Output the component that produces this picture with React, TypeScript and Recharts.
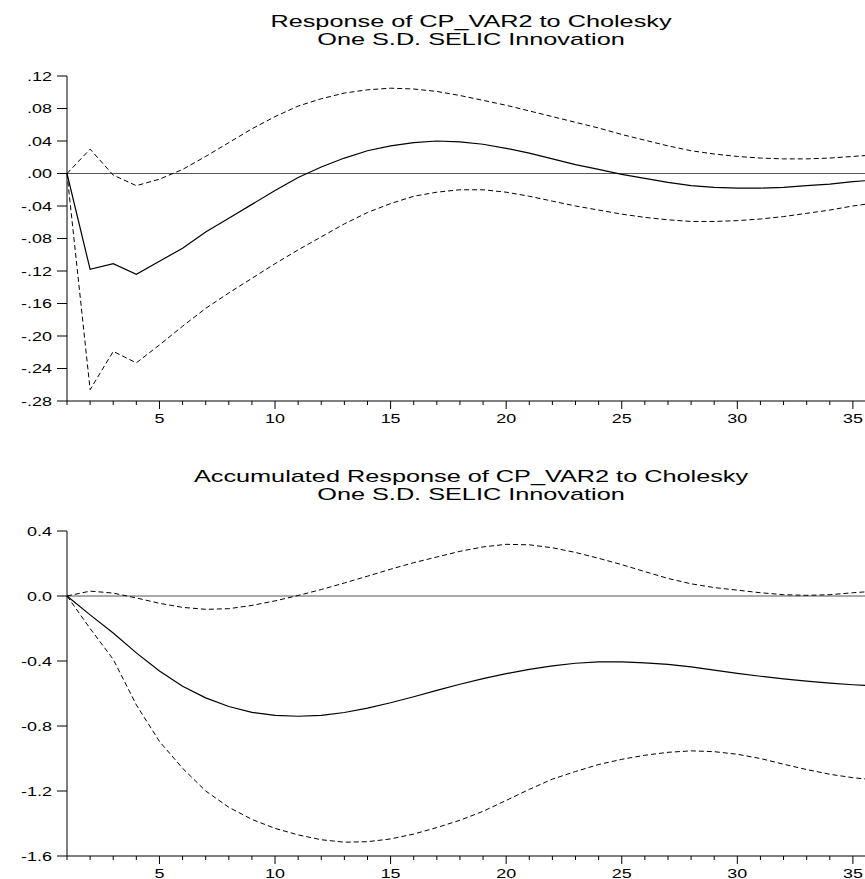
import { LineChart, Line, XAxis, YAxis, ReferenceLine } from 'recharts'

// impulse response periods
const periods = [
  1, 2, 3, 4, 5, 6, 7, 8, 9, 10, 11, 12, 13, 14, 15, 16, 17, 18,
  19, 20, 21, 22, 23, 24, 25, 26, 27, 28, 29, 30, 31, 32, 33, 34, 35, 36,
]

// Response of CP_VAR2 to Cholesky One S.D. SELIC Innovation
const respMid = [
  0, -0.118, -0.111, -0.124, -0.108, -0.092, -0.072, -0.055, -0.038, -0.021,
  -0.005, 0.008, 0.019, 0.028, 0.034, 0.038, 0.040, 0.039, 0.036, 0.031,
  0.025, 0.018, 0.011, 0.005, -0.001, -0.006, -0.011, -0.015, -0.017, -0.018,
  -0.018, -0.017, -0.015, -0.013, -0.010, -0.008,
]
const respUpper = [
  0, 0.030, -0.002, -0.015, -0.007, 0.005, 0.021, 0.038, 0.055, 0.070,
  0.083, 0.092, 0.099, 0.103, 0.105, 0.104, 0.101, 0.096, 0.090, 0.084,
  0.077, 0.070, 0.063, 0.056, 0.048, 0.041, 0.034, 0.028, 0.024, 0.021,
  0.019, 0.018, 0.018, 0.019, 0.021, 0.023,
]
const respLower = [
  0, -0.266, -0.219, -0.233, -0.211, -0.188, -0.166, -0.147, -0.129, -0.111,
  -0.094, -0.078, -0.062, -0.048, -0.037, -0.028, -0.023, -0.020, -0.020, -0.023,
  -0.028, -0.034, -0.040, -0.045, -0.050, -0.054, -0.057, -0.059, -0.059, -0.058,
  -0.056, -0.053, -0.049, -0.045, -0.040, -0.036,
]

// Accumulated Response of CP_VAR2 to Cholesky One S.D. SELIC Innovation
const accMid = [
  0, -0.116, -0.228, -0.350, -0.462, -0.555, -0.627, -0.680, -0.716, -0.735,
  -0.740, -0.735, -0.717, -0.690, -0.657, -0.620, -0.581, -0.543, -0.508, -0.478,
  -0.452, -0.430, -0.414, -0.405, -0.405, -0.411, -0.421, -0.436, -0.456, -0.476,
  -0.494, -0.510, -0.524, -0.536, -0.546, -0.553,
]
const accUpper = [
  0, 0.030, 0.018, -0.012, -0.045, -0.070, -0.082, -0.078, -0.058, -0.030,
  0.003, 0.040, 0.080, 0.122, 0.165, 0.205, 0.240, 0.275, 0.302, 0.318,
  0.315, 0.297, 0.268, 0.232, 0.193, 0.150, 0.108, 0.075, 0.052, 0.036,
  0.020, 0.008, 0.004, 0.008, 0.020, 0.030,
]
const accLower = [
  0, -0.200, -0.390, -0.670, -0.895, -1.060, -1.200, -1.300, -1.375, -1.430,
  -1.470, -1.500, -1.515, -1.512, -1.495, -1.465, -1.425, -1.380, -1.325, -1.258,
  -1.190, -1.127, -1.080, -1.037, -1.005, -0.980, -0.962, -0.953, -0.958, -0.974,
  -1.000, -1.035, -1.068, -1.097, -1.118, -1.133,
]

const topYTicks = [-0.28, -0.24, -0.2, -0.16, -0.12, -0.08, -0.04, 0, 0.04, 0.08, 0.12]
const topYLabels = ['-.28', '-.24', '-.20', '-.16', '-.12', '-.08', '-.04', '.00', '.04', '.08', '.12']
const bottomYTicks = [-1.6, -1.2, -0.8, -0.4, 0, 0.4]
const bottomYLabels = ['-1.6', '-1.2', '-0.8', '-0.4', '0.0', '0.4']

const FONT = "'Liberation Sans', Arial, sans-serif"
const SX = 1.38

const topData = periods.map((t, i) => ({ t, mid: respMid[i], up: respUpper[i], lo: respLower[i] }))
const bottomData = periods.map((t, i) => ({ t, mid: accMid[i], up: accUpper[i], lo: accLower[i] }))

function XTick(props: any) {
  const { x, y, payload } = props
  const major = payload.value % 5 === 0
  return (
    <g>
      <line x1={x} x2={x} y1={y} y2={y + (major ? 8 : 4)} stroke="#000" strokeWidth={1} />
      {major && (
        <text
          x={0}
          y={0}
          transform={`translate(${x},${y + 22}) scale(${SX},1)`}
          textAnchor="middle"
          fontSize={13}
          fontFamily={FONT}
          fill="#000"
        >
          {payload.value}
        </text>
      )}
    </g>
  )
}

function makeYTick(ticks: number[], labels: string[]) {
  return function YTick(props: any) {
    const { x, y, payload } = props
    let idx = 0
    ticks.forEach((v, i) => {
      if (Math.abs(v - payload.value) < 1e-9) idx = i
    })
    return (
      <g>
        <line x1={x - 10} x2={x} y1={y} y2={y} stroke="#000" strokeWidth={1} />
        <text
          x={0}
          y={0}
          dy="0.36em"
          transform={`translate(${x - 15},${y}) scale(${SX},1)`}
          textAnchor="end"
          fontSize={13}
          fontFamily={FONT}
          fill="#000"
        >
          {labels[idx]}
        </text>
      </g>
    )
  }
}

function Panel({
  data,
  yTicks,
  yLabels,
  title1,
  title2,
  top,
}: {
  data: any[]
  yTicks: number[]
  yLabels: string[]
  title1: string
  title2: string
  top: number
}) {
  const YTick = makeYTick(yTicks, yLabels)
  return (
    <div style={{ position: 'absolute', left: 0, top, width: 900, height: 440 }}>
      <svg width={865} height={60} style={{ position: 'absolute', left: 0, top: 0 }}>
        <text
          x={0}
          y={0}
          transform={`translate(471,27) scale(1.58,1)`}
          textAnchor="middle"
          fontSize={16}
          fontFamily={FONT}
          fill="#000"
        >
          {title1}
        </text>
        <text
          x={0}
          y={0}
          transform={`translate(471,45) scale(1.58,1)`}
          textAnchor="middle"
          fontSize={16}
          fontFamily={FONT}
          fill="#000"
        >
          {title2}
        </text>
      </svg>
      <LineChart
        width={900}
        height={440}
        data={data}
        margin={{ top: 76, right: 24, bottom: 9, left: 7 }}
        style={{ position: 'absolute', left: 0, top: 0 }}
      >
        <XAxis
          dataKey="t"
          type="number"
          domain={[1, 36]}
          ticks={periods}
          interval={0}
          height={30}
          tickSize={0}
          tickMargin={0}
          tickLine={false}
          axisLine={{ stroke: '#000', strokeWidth: 1 }}
          tick={XTick}
        />
        <XAxis
          xAxisId="top"
          orientation="top"
          dataKey="t"
          type="number"
          domain={[1, 36]}
          height={0}
          tick={false}
          tickLine={false}
          axisLine={{ stroke: '#000', strokeWidth: 1 }}
        />
        <YAxis
          type="number"
          domain={[yTicks[0], yTicks[yTicks.length - 1]]}
          ticks={yTicks}
          interval={0}
          width={60}
          tickSize={0}
          tickMargin={0}
          tickLine={false}
          axisLine={{ stroke: '#000', strokeWidth: 1 }}
          tick={YTick}
        />
        <ReferenceLine y={0} stroke="#555" strokeWidth={1} />
        <Line
          type="linear"
          dataKey="up"
          stroke="#000"
          strokeWidth={1}
          strokeDasharray="5 3"
          dot={false}
          isAnimationActive={false}
        />
        <Line
          type="linear"
          dataKey="lo"
          stroke="#000"
          strokeWidth={1}
          strokeDasharray="5 3"
          dot={false}
          isAnimationActive={false}
        />
        <Line
          type="linear"
          dataKey="mid"
          stroke="#000"
          strokeWidth={1.2}
          dot={false}
          isAnimationActive={false}
        />
      </LineChart>
    </div>
  )
}

export default function App() {
  return (
    <div
      style={{
        position: 'absolute',
        left: 0,
        top: 0,
        width: 865,
        height: 879,
        overflow: 'hidden',
        background: '#fff',
      }}
    >
      <Panel
        data={topData}
        yTicks={topYTicks}
        yLabels={topYLabels}
        title1="Response of CP_VAR2 to Cholesky"
        title2="One S.D. SELIC Innovation"
        top={0}
      />
      <Panel
        data={bottomData}
        yTicks={bottomYTicks}
        yLabels={bottomYLabels}
        title1="Accumulated Response of CP_VAR2 to Cholesky"
        title2="One S.D. SELIC Innovation"
        top={455}
      />
    </div>
  )
}
